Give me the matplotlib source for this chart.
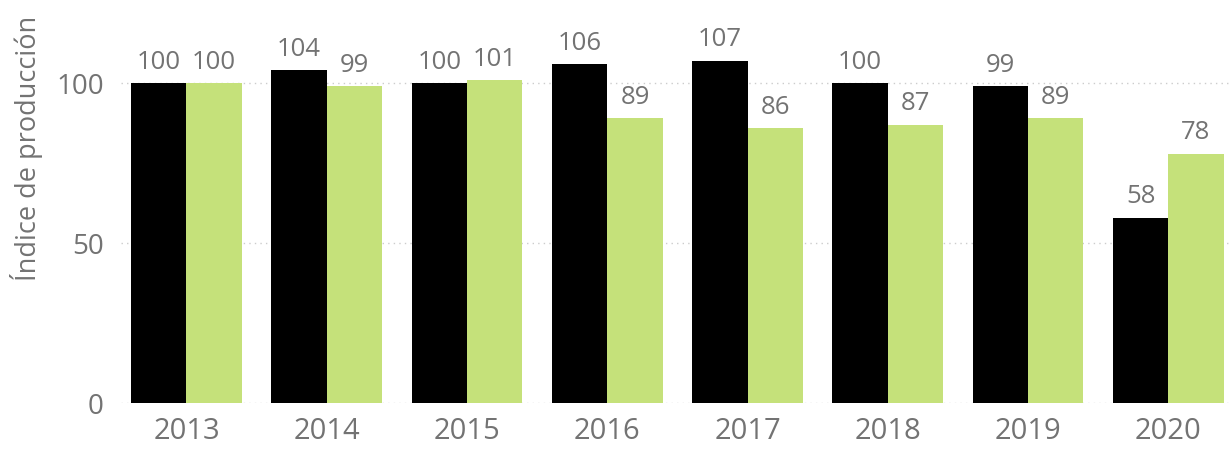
import matplotlib
matplotlib.use("Agg")
import matplotlib.pyplot as plt
import numpy as np

years = ["2013", "2014", "2015", "2016", "2017", "2018", "2019", "2020"]
serie_negra = [100, 104, 100, 106, 107, 100, 99, 58]
serie_verde = [100, 99, 101, 89, 86, 87, 89, 78]
y_ticks = [0, 50, 100]
y_label = "Índice de producción"

plt.rcParams['font.family'] = ['Open Sans', 'DejaVu Sans']
gray = "#737373"
green = "#c5e17a"

fig = plt.figure(figsize=(12.3, 4.55), dpi=100)
ax = fig.add_axes([0.098, 0.114, 0.902, 0.886])

x = np.arange(len(years))
w = 0.395
b1 = ax.bar(x - w/2, serie_negra, width=w, color="black")
b2 = ax.bar(x + w/2, serie_verde, width=w, color=green)

for bars, vals in ((b1, serie_negra), (b2, serie_verde)):
    for r, v in zip(bars, vals):
        ax.annotate(str(v), (r.get_x() + r.get_width()/2, v), xytext=(0, 6),
                    textcoords="offset points", ha="center", va="bottom",
                    fontsize=18.5, color=gray)

ax.set_xlim(-0.47, 7.44)
ax.set_ylim(0, 126)
ax.set_yticks(y_ticks)
ax.set_xticks(x)
ax.set_xticklabels(years)
ax.tick_params(axis="both", length=0, colors=gray)
ax.tick_params(axis="y", pad=12, labelsize=20)
ax.tick_params(axis="x", pad=10, labelsize=21)
for s in ax.spines.values():
    s.set_visible(False)
ax.set_axisbelow(True)
ax.yaxis.grid(True, linestyle=(0, (1, 3)), color="#cccccc", linewidth=1)
ax.set_ylabel(y_label, fontsize=19.5, color=gray)
ax.yaxis.set_label_coords(-0.070, 0.633)

fig.savefig("out.png", dpi=100)
